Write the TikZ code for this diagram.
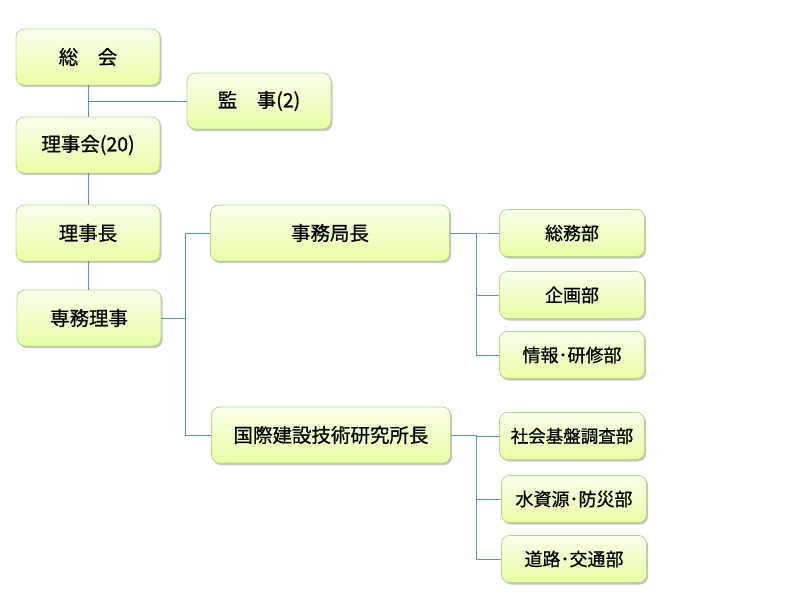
\documentclass[tikz,border=0pt]{standalone}
\usepackage{fontspec}
\newfontfamily\cjk[FakeBold=0.7]{Noto Sans CJK JP}
\usetikzlibrary{shadows}

\begin{document}
\begin{tikzpicture}[x=1pt,y=-1pt,
	box/.style={draw=green!35!olive!45,line width=0.8pt,rounded corners=8pt,
		top color=lime!8!white,bottom color=lime!35!white,
		drop shadow={shadow xshift=1.5pt,shadow yshift=-2pt,fill=black!45,opacity=0.5},
		font=\cjk\fontsize{19.5}{19.5}\selectfont,inner sep=0pt},
	big/.style={box,minimum width=144pt,minimum height=56pt},
	wide/.style={box,minimum width=239pt,minimum height=56pt},
	dept/.style={box,minimum width=145pt,minimum height=47pt,font=\cjk\fontsize{18}{18}\selectfont},
	link/.style={draw=blue!45!cyan!60!black!65,line width=0.8pt}]
	\useasboundingbox (0,0) rectangle (800,600);
	
	\node[big] (sokai) at (88,57) {総\quad 会};
	\node[big] (kanji) at (259,101) {監\quad 事(2)};
	\node[big] (rijikai) at (88,145) {理事会(20)};
	\node[big] (rijicho) at (88,233) {理事長};
	\node[big] (senmu) at (89,318) {専務理事};
	
	\node[wide] (jimu) at (330,233) {事務局長};
	\node[wide] (kenkyu) at (331,435) {国際建設技術研究所長};
	
	\node[dept] (somu) at (572,233) {総務部};
	\node[dept] (kikaku) at (572,295) {企画部};
	\node[dept] (joho) at (572,355) {情報･研修部};
	\node[dept,font=\cjk\fontsize{17.5}{17.5}\selectfont] (shakai) at (572,436) {社会基盤調査部};
	\node[dept] (mizu) at (574,499) {水資源･防災部};
	\node[dept] (doro) at (574,559) {道路･交通部};
	
	\draw[link] (sokai) -- (rijikai);
	\draw[link] (kanji.west) -- (kanji.west -| sokai.south);
	\draw[link] (rijikai) -- (rijicho);
	\draw[link] (rijicho.south) -- (rijicho.south |- senmu.north);
	
	\draw[link] (senmu.east) -- ++(24,0) |- (jimu.west);
	\draw[link] (senmu.east) -- ++(24,0) |- (kenkyu.west);
	
	\draw[link] (jimu.east) -- ++(26,0) |- (somu.west);
	\draw[link] (jimu.east) -- ++(26,0) |- (kikaku.west);
	\draw[link] (jimu.east) -- ++(26,0) |- (joho.west);
	
	\draw[link] (kenkyu.east) -- ++(25,0) |- (shakai.west);
	\draw[link] (kenkyu.east) -- ++(25,0) |- (mizu.west);
	\draw[link] (kenkyu.east) -- ++(25,0) |- (doro.west);
\end{tikzpicture}
\end{document}
